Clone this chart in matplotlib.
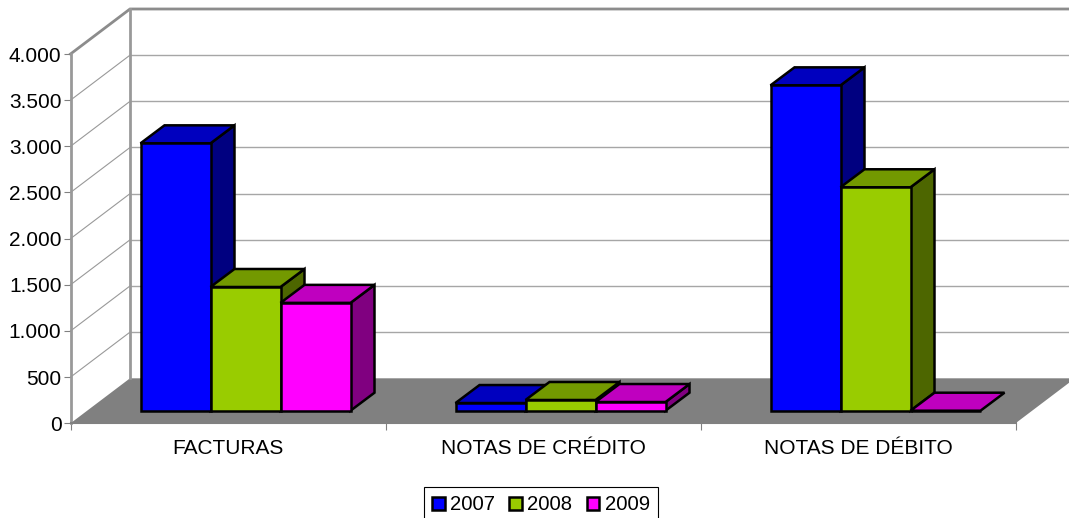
import matplotlib
matplotlib.use("Agg")
import matplotlib.pyplot as plt
from matplotlib.patches import Patch

plt.rcParams['font.family'] = ['Liberation Sans', 'DejaVu Sans']

categories = ["FACTURAS", "NOTAS DE CRÉDITO", "NOTAS DE DÉBITO"]
series_names = ["2007", "2008", "2009"]
values_2007 = [2896, 83, 3524]
values_2008 = [1340, 116, 2420]
values_2009 = [1168, 94, 0]
y_ticks = [0, 500, 1000, 1500, 2000, 2500, 3000, 3500, 4000]
y_tick_labels = ["0", "500", "1.000", "1.500", "2.000", "2.500", "3.000", "3.500", "4.000"]

front_colors = ["#0000FF", "#99CC00", "#FF00FF"]
top_colors = ["#0000BF", "#739900", "#BF00BF"]
side_colors = ["#000080", "#4D6600", "#800080"]
GRAY = "#808080"

W, H = 1069, 518
L, R, T, B = 70.5, 1015.5, 54, 423.3
fig = plt.figure(figsize=(W / 100, H / 100), dpi=100, facecolor="white")
ax = fig.add_axes([L / W, 1 - B / H, (R - L) / W, (B - T) / H])
ax.set_xlim(-0.5, 2.5)
ax.set_ylim(0, 4000)
ax.patch.set_alpha(0)

PX = 1 / 315.0                 # data x per pixel
PY = 4000 / (B - T)            # data y per pixel


def off(x, v, dx=0, dy=0):
    return x + dx * PX, v + dy * PY


# walls and floor
WX, WY = 59.5, 45.0
x0, x1 = -0.5, 2.5
fx, fy = zip(off(x0, 0), off(x1, 0), off(x1, 0, WX, WY), off(x0, 0, WX, WY))
ax.fill(fx, fy, color=GRAY, lw=0, clip_on=False, zorder=1)
for t in y_ticks[1:-1]:
    xs, ys = zip(off(x0, t), off(x0, t, WX, WY))
    ax.plot(xs, ys, color="#999999", lw=0.8, clip_on=False, zorder=1)
    xs, ys = zip(off(x0, t, WX, WY), off(x1, t, WX, WY))
    ax.plot(xs, ys, color="#A6A6A6", lw=1.0, clip_on=False, zorder=1)
xs, ys = zip(off(x0, 4000), off(x0, 4000, WX, WY), off(x1, 4000, WX, WY))
ax.plot(xs, ys, color="#8C8C8C", lw=2.0, clip_on=False, zorder=1.5, solid_joinstyle="miter")
xs, ys = zip(off(x0, 0, WX, WY), off(x0, 4000, WX, WY))
ax.plot(xs, ys, color="#999999", lw=2.0, clip_on=False, zorder=1.5)

# bars
BW = 70.0 * PX
DEPTH_X, DEPTH_Y = 24, 18
BASE_X, BASE_Y = 17.5, 12.6
base = BASE_Y * PY
EDGE = dict(edgecolor="black", linewidth=1.8, joinstyle="miter", clip_on=False)
z = 3
for ci in range(len(categories)):
    for si, vals in enumerate([values_2007, values_2008, values_2009]):
        v = vals[ci]
        left = ci - 1.5 * BW + BASE_X * PX + si * BW
        right = left + BW
        top = base + v
        ax.bar(left, v, width=BW, bottom=base, align="edge", color=front_colors[si],
               zorder=z + 0.2, **EDGE)
        px, py = zip((left, top), (right, top), off(right, top, DEPTH_X, DEPTH_Y), off(left, top, DEPTH_X, DEPTH_Y))
        ax.fill(px, py, facecolor=top_colors[si], zorder=z + 0.1, **EDGE)
        if v > 0:
            px, py = zip((right, base), (right, top), off(right, top, DEPTH_X, DEPTH_Y), off(right, base, DEPTH_X, DEPTH_Y))
            ax.fill(px, py, facecolor=side_colors[si], zorder=z, **EDGE)
        z += 1

# axes
for s in ("top", "right"):
    ax.spines[s].set_visible(False)
ax.spines["left"].set_color("#999999")
ax.spines["left"].set_linewidth(2.0)
ax.spines["bottom"].set_color(GRAY)
ax.spines["bottom"].set_linewidth(1.5)
ax.spines["left"].set_zorder(2)
ax.spines["bottom"].set_zorder(2)
ax.set_yticks(y_ticks, y_tick_labels)
ax.set_xticks(range(len(categories)), categories)
ax.set_xticks([-0.5, 0.5, 1.5, 2.5], minor=True)
ax.tick_params(axis="y", length=5, width=0.8, color=GRAY, labelsize=15, pad=1.5, labelcolor="black")
ax.tick_params(axis="x", which="major", length=0, labelsize=15, pad=11.5, labelcolor="black")
ax.tick_params(axis="x", which="minor", length=5, width=0.8, color=GRAY)

# legend
handles = [Patch(facecolor=c, edgecolor="black", linewidth=1.8) for c in front_colors]
leg = fig.legend(handles, series_names, loc="upper left",
                 bbox_to_anchor=(424 / W, 1 - 487.3 / H), bbox_transform=fig.transFigure,
                 ncol=3, fontsize=14.6, frameon=True, fancybox=False, edgecolor="black",
                 framealpha=1, handlelength=0.62, handleheight=0.62, handletextpad=0.27,
                 columnspacing=0.7, borderpad=0.4, borderaxespad=0)
leg.get_frame().set_linewidth(0.8)

fig.savefig("out.png", dpi=100)
